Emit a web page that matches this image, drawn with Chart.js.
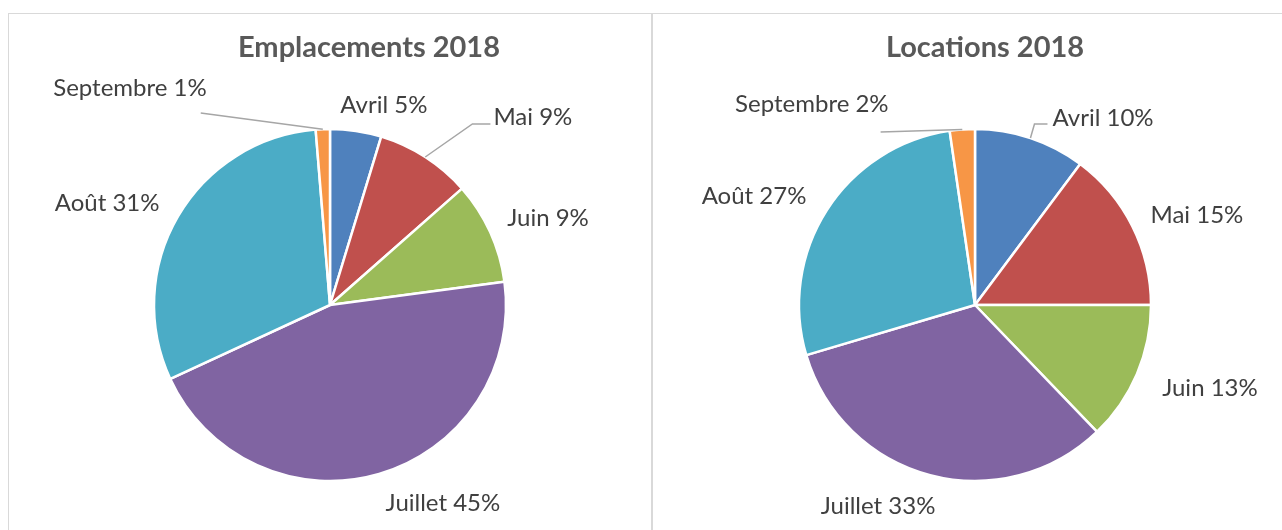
<!DOCTYPE html>
<html>
<head>
<meta charset="utf-8">
<script src="https://cdn.jsdelivr.net/npm/chart.js@4.4.1/dist/chart.umd.min.js"></script>
<style>
  html, body { margin: 0; padding: 0; background: #ffffff; }
  body { width: 1282px; height: 530px; overflow: hidden; position: relative; }
  .box { position: absolute; top: 13px; border-top: 1px solid #D9D9D9; border-left: 1px solid #D9D9D9; background: #fff; }
  #boxL { left: 8px; width: 642px; height: 530px; border-right: 1px solid #D9D9D9; }
  #boxR { left: 652px; width: 642px; height: 530px; }
  canvas { display: block; }
</style>
</head>
<body>
<div class="box" id="boxL"><canvas id="chartL" width="642" height="516"></canvas></div>
<div class="box" id="boxR"><canvas id="chartR" width="642" height="516"></canvas></div>
<script>
// ---- data ----
const categories = ['Avril', 'Mai', 'Juin', 'Juillet', 'Août', 'Septembre'];
const emplacementsValues = [4.7, 8.8, 9.4, 45.2, 30.6, 1.3];
const locationsValues = [10.2, 14.8, 12.8, 32.6, 27.3, 2.3];
const titles = ['Emplacements 2018', 'Locations 2018'];
const sliceColors = ['#4F81BD', '#C0504D', '#9BBB59', '#8064A2', '#4BACC6', '#F79646'];

// ---- plugins ----
const titlePlugin = {
  id: 'customTitle',
  afterDraw(chart, args, opts) {
    const ctx = chart.ctx;
    ctx.save();
    ctx.font = opts.font;
    ctx.fillStyle = opts.color;
    ctx.textAlign = 'center';
    ctx.textBaseline = 'alphabetic';
    ctx.fillText(opts.text, opts.x, opts.y);
    ctx.restore();
  }
};

const pieLabels = {
  id: 'pieLabels',
  afterDatasetsDraw(chart, args, opts) {
    const ctx = chart.ctx;
    const meta = chart.getDatasetMeta(0);
    const data = chart.data.datasets[0].data;
    const total = data.reduce((a, b) => a + b, 0);
    ctx.save();
    ctx.font = opts.font;
    meta.data.forEach((arc, i) => {
      const pr = arc.getProps(['x', 'y', 'startAngle', 'endAngle', 'outerRadius'], true);
      const mid = (pr.startAngle + pr.endAngle) / 2;
      const p = opts.place[i];
      const a = mid + p[1] * Math.PI / 180;
      const cx = pr.x + Math.cos(a) * pr.outerRadius * p[0];
      const cy = pr.y + Math.sin(a) * pr.outerRadius * p[0];
      const text = chart.data.labels[i] + ' ' + Math.round(data[i] / total * 100) + '%';
      const w = ctx.measureText(text).width;
      const L = opts.leaders[i];
      if (L) {
        const ex = pr.x + Math.cos(mid) * pr.outerRadius;
        const ey = pr.y + Math.sin(mid) * pr.outerRadius;
        const endX = (L.side === 'left' ? cx - w / 2 : cx + w / 2) + L.off;
        const endY = cy + L.dy;
        ctx.beginPath();
        ctx.moveTo(ex, ey);
        ctx.lineTo(endX - L.elbow, endY);
        ctx.lineTo(endX, endY);
        ctx.strokeStyle = opts.lineColor;
        ctx.lineWidth = 1.5;
        ctx.stroke();
      }
      ctx.fillStyle = opts.color;
      ctx.textAlign = 'center';
      ctx.textBaseline = 'alphabetic';
      ctx.fillText(text, cx, cy + opts.capHalf);
    });
    ctx.restore();
  }
};

function makePie(id, values, title, titleX, pad, place, leaders) {
  return new Chart(document.getElementById(id), {
    type: 'pie',
    data: {
      labels: categories,
      datasets: [{
        data: values,
        backgroundColor: sliceColors,
        borderColor: '#ffffff',
        borderWidth: 2.5
      }]
    },
    options: {
      responsive: false,
      animation: false,
      radius: 176,
      layout: { padding: pad },
      plugins: {
        legend: { display: false },
        tooltip: { enabled: false },
        title: { display: false },
        customTitle: { text: title, x: titleX, y: 43, font: 'bold 29px Lato', color: '#595959' },
        pieLabels: {
          font: '24px Lato', color: '#404040', lineColor: '#A6A6A6', capHalf: 8.5,
          place: place, leaders: leaders
        }
      }
    },
    plugins: [titlePlugin, pieLabels]
  });
}

makePie('chartL', emplacementsValues, titles[0], 360,
  { left: 145, top: 115, right: 145, bottom: 49 },
  [[1.177, 6.6], [1.572, 14.4], [1.334, 2.7], [1.295, -13.5], [1.393, -5.6], [1.681, -40.2]],
  [null, { side: 'left', off: -3, dy: 7, elbow: 18 }, null, null, null, { side: 'right', off: -6, dy: 26, elbow: 0 }]
);

makePie('chartR', locationsValues, titles[1], 332,
  { left: 146, top: 115, right: 144, bottom: 49 },
  [[1.292, 15.9], [1.361, 4.5], [1.414, -3.8], [1.263, 11.1], [1.4, -6.3], [1.475, -34.8]],
  [{ side: 'left', off: -5, dy: 7, elbow: 13 }, null, null, null, null, { side: 'right', off: -8, dy: 29, elbow: 0 }]
);
</script>
</body>
</html>
